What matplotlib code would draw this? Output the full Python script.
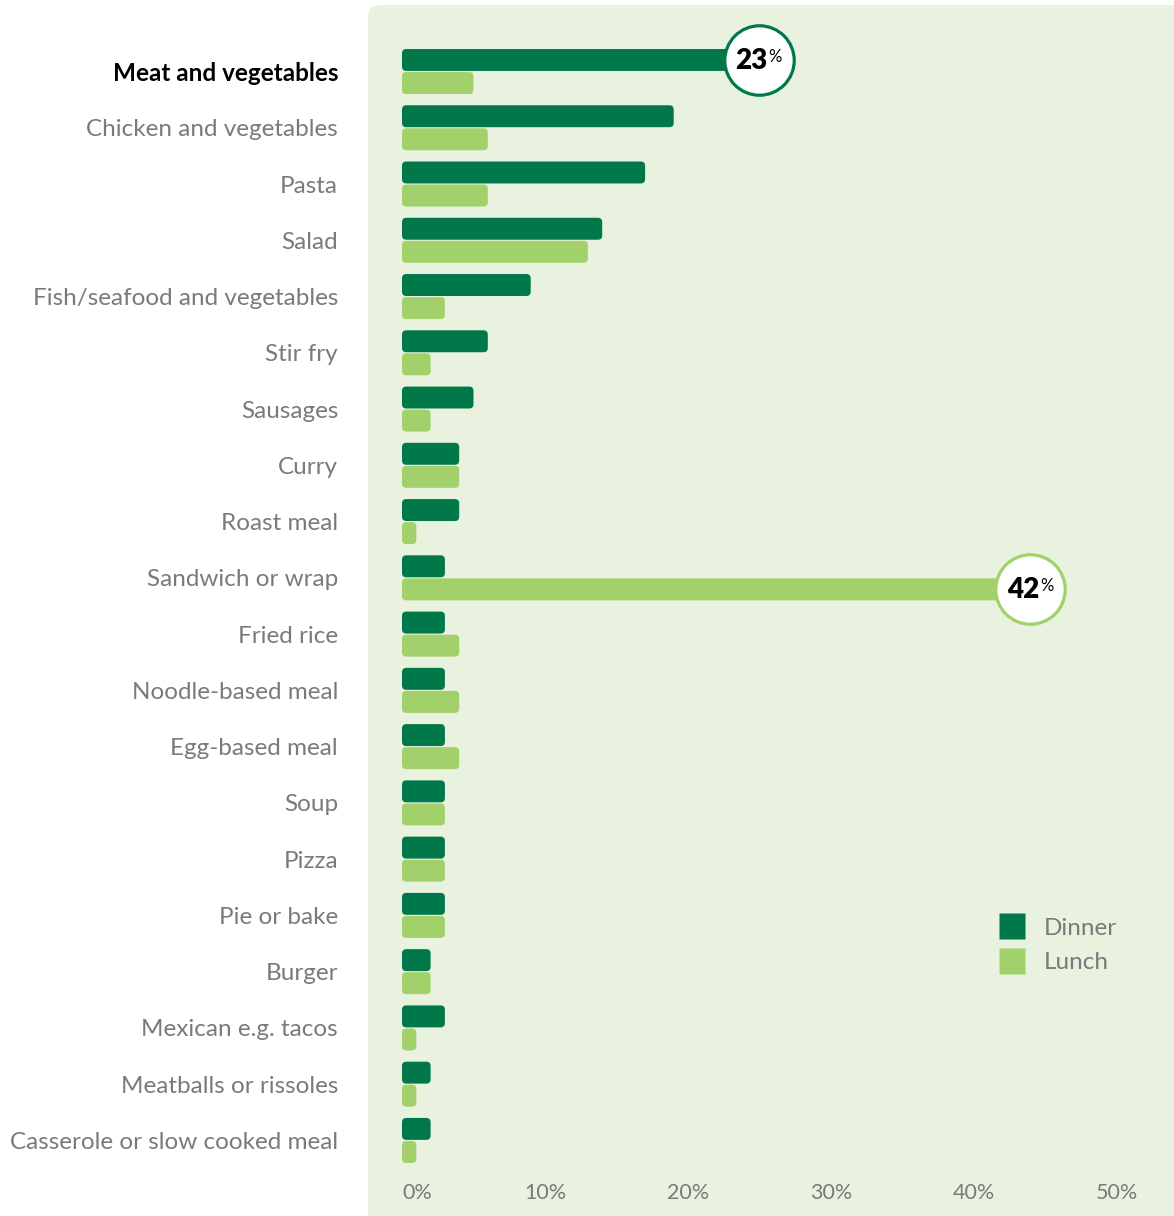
import matplotlib.pyplot as plt
from matplotlib.patches import FancyBboxPatch
from matplotlib.lines import Line2D

plt.rcParams['font.family'] = ['Lato', 'DejaVu Sans']

categories = ["Meat and vegetables", "Chicken and vegetables", "Pasta", "Salad",
              "Fish/seafood and vegetables", "Stir fry", "Sausages", "Curry",
              "Roast meal", "Sandwich or wrap", "Fried rice", "Noodle-based meal",
              "Egg-based meal", "Soup", "Pizza", "Pie or bake", "Burger",
              "Mexican e.g. tacos", "Meatballs or rissoles", "Casserole or slow cooked meal"]
dinner = [23, 19, 17, 14, 9, 6, 5, 4, 4, 3, 3, 3, 3, 3, 3, 3, 2, 3, 2, 2]
lunch = [5, 6, 6, 13, 3, 2, 2, 4, 1, 42, 4, 4, 4, 3, 3, 3, 2, 1, 1, 1]
xticks = [0, 10, 20, 30, 40, 50]
xticklabels = ["0%", "10%", "20%", "30%", "40%", "50%"]

DARK = "#00784a"
LIGHT = "#a2d06a"
BG = "#e8f2de"
GREY = "#7a7a7a"

W, H = 1174, 1216
fig = plt.figure(figsize=(W / 100, H / 100), dpi=100)
fig.patch.set_facecolor("white")

# light green panel behind the plot
panel = FancyBboxPatch((368 / W, -0.05), 1.0, 1.0 - 5 / H + 0.05,
                       boxstyle="round,pad=0,rounding_size=0.01",
                       mutation_aspect=W / H, transform=fig.transFigure,
                       facecolor=BG, edgecolor="none", zorder=-5)
fig.patches.append(panel)

# axes placement in pixels
x0, x50 = 402, 1117
row0, rowstep = 71.5, 56.26
top_px, bot_px = 20, 1168
ax = fig.add_axes([x0 / W, 1 - bot_px / H, (x50 - x0) / W, (bot_px - top_px) / H])
ax.set_facecolor("none")
ax.set_zorder(2)
ax.set_xlim(0, 50)
ax.set_ylim((bot_px - row0) / rowstep, (top_px - row0) / rowstep)

n = len(categories)
pos = list(range(n))
off = 0.205
h = 0.39
b1 = ax.barh([p - off for p in pos], dinner, height=h, color=DARK)
b2 = ax.barh([p + off for p in pos], lunch, height=h, color=LIGHT)

# swap the plain bars for rounded ones
px_x = (x50 - x0) / 50
aspect = px_x / rowstep
for bars, col in [(b1, DARK), (b2, LIGHT)]:
    for b in bars:
        b.set_visible(False)
        r = FancyBboxPatch((b.get_x(), b.get_y()), b.get_width(), b.get_height(),
                           boxstyle="round,pad=0,rounding_size=%f" % min(0.3, b.get_width() / 2),
                           mutation_aspect=aspect, facecolor=col, edgecolor="none", zorder=2)
        ax.add_patch(r)

# highlight bubbles
for val, y, col in [(dinner[0], 0 - off, DARK), (lunch[9], 9 + off, LIGHT)]:
    cx = val + 1.95
    ax.plot(cx, y, "o", ms=50, mfc="white", mec=col, mew=2.3, zorder=4, clip_on=False)
    ax.text(cx + 0.6, y + 0.01, "%d" % val, ha="right", va="center", fontsize=20,
            fontweight="heavy", color="black", zorder=5)
    ax.text(cx + 0.65, y - 0.06, "%", ha="left", va="center", fontsize=12,
            color="black", zorder=5)

ax.set_yticks(pos)
ax.set_yticklabels(categories, fontsize=17.5, color=GREY)
ax.get_yticklabels()[0].set_color("black")
ax.get_yticklabels()[0].set_fontweight("bold")
ax.tick_params(axis="y", length=0, pad=46)

ax.set_xticks(xticks)
ax.set_xticklabels(xticklabels, fontsize=15.5, color=GREY)
ax.get_xticklabels()[0].set_ha("left")
ax.tick_params(axis="x", length=0, pad=11)

for s in ax.spines.values():
    s.set_visible(False)

handles = [Line2D([], [], marker="s", ls="", ms=19, mfc=DARK, mec="none"),
           Line2D([], [], marker="s", ls="", ms=19, mfc=LIGHT, mec="none")]
leg = ax.legend(handles, ["Dinner", "Lunch"], loc="upper left",
                bbox_to_anchor=((978 - x0) / (x50 - x0), 1 - (908 - top_px) / (bot_px - top_px)),
                frameon=False, fontsize=17.5, labelcolor=GREY, handletextpad=0.3,
                labelspacing=0.55, borderaxespad=0)

fig.savefig("out.png", dpi=100)
